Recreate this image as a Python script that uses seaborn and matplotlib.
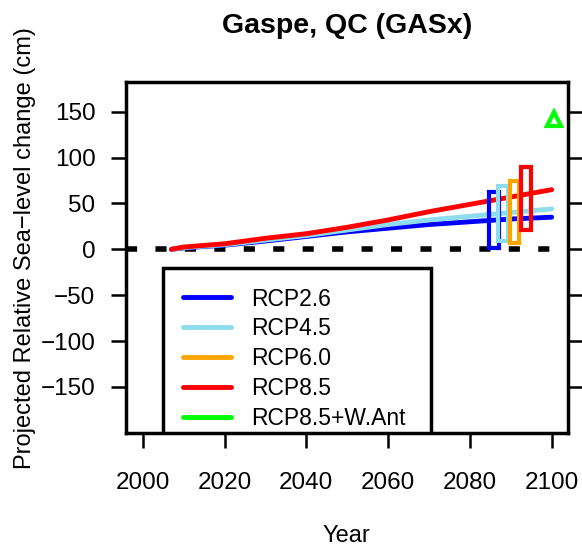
import numpy as np
import pandas as pd
import matplotlib
matplotlib.use("Agg")
import matplotlib.pyplot as plt
from matplotlib.lines import Line2D
import seaborn as sns

# ---- data ----
years = [2007, 2010, 2020, 2030, 2040, 2050, 2060, 2070, 2080, 2090, 2100]
rcp26 = [0, 1.5, 4.5, 9, 14, 19, 23, 27, 30, 33, 35]
rcp45 = [0, 1.8, 5, 10, 15, 21, 27, 32, 36, 40, 44]
rcp85 = [0, 2.5, 6, 12, 17, 24, 32, 41, 49, 57, 65]

scenarios = ["RCP2.6", "RCP4.5", "RCP6.0", "RCP8.5", "RCP8.5+W.Ant"]
colors = ["#0000FF", "#8EDDEE", "#FFA500", "#FF0000", "#00FF00"]

# 2100 likely ranges (boxes)
box_scen = ["RCP2.6", "RCP4.5", "RCP6.0", "RCP8.5"]
box_year = [2086.0, 2088.2, 2090.9, 2093.7]
box_low = [1, 9, 7, 21]
box_high = [62, 69, 75, 90]

wais_year = [2100.5]
wais_value = [142]

title = "Gaspe, QC (GASx)"
xlabel = "Year"
ylabel = "Projected Relative Sea\u2212level change (cm)"
xticks = [2000, 2020, 2040, 2060, 2080, 2100]
yticks = [-150, -100, -50, 0, 50, 100, 150]

# ---- style ----
sns.set_theme(style="white")
plt.rcParams["font.family"] = ["Liberation Sans", "DejaVu Sans"]
plt.rcParams["text.color"] = "black"
plt.rcParams["axes.labelcolor"] = "black"

fig = plt.figure(figsize=(5.82, 5.54), dpi=100)
ax = fig.add_axes([126 / 582, 1 - 433 / 554, 442 / 582, 351 / 554])

df = pd.DataFrame({
    "Year": years * 3,
    "value": rcp26 + rcp45 + rcp85,
    "scenario": ["RCP2.6"] * len(years) + ["RCP4.5"] * len(years) + ["RCP8.5"] * len(years),
})
pal = dict(zip(scenarios, colors))

ax.axhline(0, color="black", lw=4, ls=(0, (2.0, 3.3)), zorder=1)
sns.lineplot(data=df, x="Year", y="value", hue="scenario", palette=pal,
             linewidth=3.5, legend=False, ax=ax, zorder=2)

for s, yx, lo, hi in zip(box_scen, box_year, box_low, box_high):
    ax.bar(yx, hi - lo, bottom=lo, width=2.4, fill=False,
           edgecolor=pal[s], linewidth=3, zorder=3)

ax.plot(wais_year, wais_value, marker="^", ls="none", markersize=10,
        markerfacecolor="none", markeredgecolor=pal["RCP8.5+W.Ant"],
        markeredgewidth=3, zorder=4)

ax.set_xlim(1995.9, 2104.0)
ax.set_ylim(-200.3, 182.4)
ax.set_xticks(xticks)
ax.set_yticks(yticks)
ax.tick_params(axis="both", direction="out", length=11, width=1.8,
               labelsize=17.5, colors="black", pad=11,
               bottom=True, left=True)
ax.tick_params(axis="y", right=True, labelright=False)
ax.tick_params(axis="x", pad=17)
for sp in ax.spines.values():
    sp.set_linewidth(2.5)
    sp.set_color("black")
    sp.set_zorder(6)

ax.set_xlabel(xlabel, fontsize=17)
ax.set_ylabel(ylabel, fontsize=17)
ax.xaxis.set_label_coords(0.499, -0.2635)
ax.yaxis.set_label_coords(-0.204, 0.527)
ax.set_title(title, fontsize=20.5, fontweight="bold", pad=35)

handles = [Line2D([0], [0], color=c, lw=3.5) for c in colors]
leg = ax.legend(handles, scenarios, loc="upper left",
                bbox_to_anchor=(0.084, 0.470, 0.606, 0), mode="expand",
                fontsize=16.5, frameon=True, fancybox=False, borderpad=0.85,
                handlelength=2.1, handletextpad=0.9, labelspacing=0.30,
                borderaxespad=0)
leg.set_zorder(5)
frame = leg.get_frame()
frame.set_edgecolor("black")
frame.set_linewidth(2.5)
frame.set_facecolor("white")
frame.set_alpha(1)
frame.set_clip_box(ax.bbox)
frame.set_clip_on(True)

fig.savefig("out.png", dpi=100)
